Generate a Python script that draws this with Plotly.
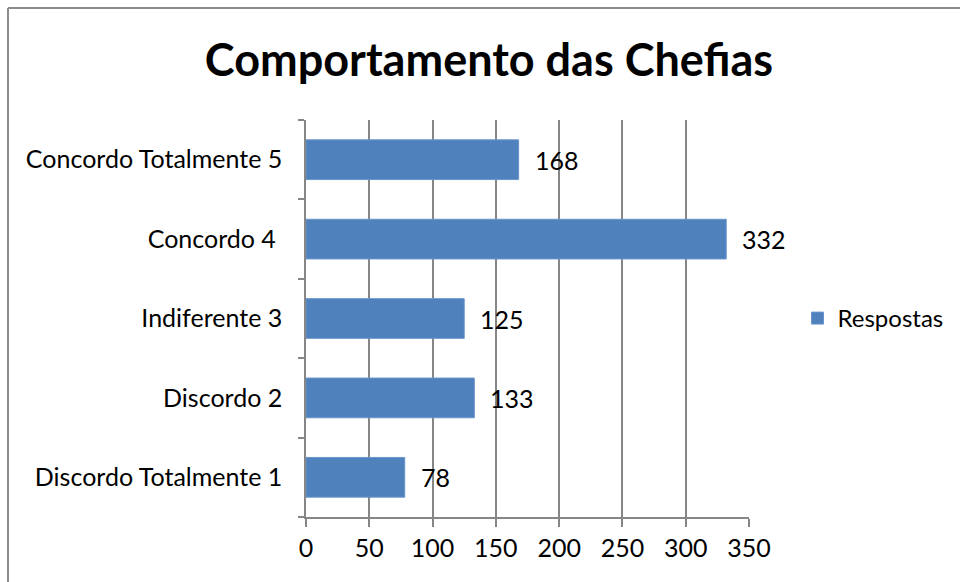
import plotly.graph_objects as go

categories = ["Discordo Totalmente 1", "Discordo 2", "Indiferente 3", "Concordo 4 ", "Concordo Totalmente 5"]
values = [78, 133, 125, 332, 168]
x_ticks = [0, 50, 100, 150, 200, 250, 300, 350]
series_name = "Respostas"
title_text = "Comportamento das Chefias"

FONT = "Lato, Open Sans, sans-serif"
BAR = "#4F81BD"
GRID = "#868686"

W, H = 960, 582
L, R, T, B = 306, 211, 120, 65
PW = W - L - R
PH = H - T - B

fig = go.Figure()
fig.add_trace(go.Bar(
    y=categories, x=values, orientation="h", name=series_name,
    marker=dict(color=BAR, line=dict(color="#6A95CC", width=1)),
    width=0.5, showlegend=True,
))

for c, v in zip(categories, values):
    fig.add_annotation(x=v, y=c, text=str(v), showarrow=False,
                       xanchor="left", xshift=14, yshift=0,
                       font=dict(family=FONT, size=25, color="#000"))

# chart border (left and top edges visible)
bx0 = (8 - L) / PW
by1 = 1 + (T - 8) / PH
fig.add_shape(type="line", xref="paper", yref="paper",
              x0=bx0, x1=bx0, y0=-(B + 5) / PH, y1=by1,
              line=dict(color="#8C8C8C", width=2))
fig.add_shape(type="line", xref="paper", yref="paper",
              x0=bx0, x1=(W - L + 5) / PW, y0=by1, y1=by1,
              line=dict(color="#8C8C8C", width=2))

fig.update_layout(
    width=W, height=H,
    paper_bgcolor="white", plot_bgcolor="white",
    margin=dict(l=L, r=R, t=T, b=B),
    title=dict(text="<b>" + title_text + "</b>", x=(489 - L) / PW,
               xref="paper", xanchor="center",
               y=1 - 60 / H, yanchor="middle",
               font=dict(family=FONT, size=45, color="#000")),
    font=dict(family=FONT, size=25, color="#000"),
    bargap=0.5,
    legend=dict(x=1.1095, y=0.5, xanchor="left", yanchor="middle",
                font=dict(family=FONT, size=24, color="#000"),
                bgcolor="rgba(0,0,0,0)"),
    xaxis=dict(range=[0, 350], tickvals=x_ticks, showgrid=True, gridcolor=GRID, gridwidth=1.5,
               showline=True, linecolor=GRID, linewidth=1.5, ticks="outside", ticklen=8,
               tickcolor=GRID, tickwidth=1.5, zeroline=False, fixedrange=True,
               tickfont=dict(family=FONT, size=25)),
    yaxis=dict(showline=True, linecolor=GRID, linewidth=1.5, ticks="outside", ticklen=6,
               tickcolor=GRID, tickwidth=1.5, tickson="boundaries", showgrid=False,
               ticklabelstandoff=17, tickfont=dict(family=FONT, size=25)),
)

fig.write_html("out.html",
               config={"displayModeBar": False},
               post_script="document.body.style.margin='0';document.body.style.overflow='hidden';")
